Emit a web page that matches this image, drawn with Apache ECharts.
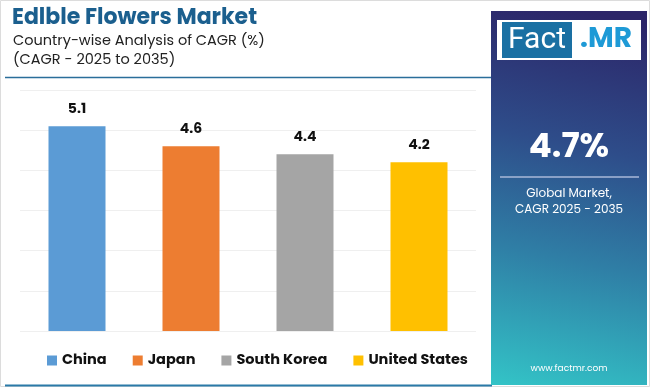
<!DOCTYPE html>
<html><head><meta charset="utf-8">
<script src="https://cdn.jsdelivr.net/npm/echarts@6/dist/echarts.min.js"></script>
<style>html,body{margin:0;padding:0;background:#fff}#c{width:650px;height:387px}</style>
</head><body><div id="c"></div>
<script>
var categories = ['China', 'Japan', 'South Korea', 'United States'];
var values = [5.1, 4.6, 4.4, 4.2];
var colors = ['#5b9bd5', '#ed7d31', '#a5a5a5', '#ffc000'];
var yTicks = [0, 1, 2, 3, 4, 5, 6];

var chart = echarts.init(document.getElementById('c'));
var F = 'Poppins, Inter, "Open Sans", sans-serif';
var series = categories.map(function (name, i) {
  return {
    name: name, type: 'bar', stack: 'all', barWidth: 57,
    itemStyle: { color: colors[i] },
    label: { show: true, position: 'top', distance: 10, color: '#111', fontWeight: 'bold', fontSize: 14, fontFamily: F },
    data: categories.map(function (c, j) { return j === i ? values[i] : '-'; })
  };
});
chart.setOption({
  animation: false,
  grid: { left: 20, right: 174, top: 90, bottom: 56 },
  xAxis: { type: 'category', data: categories, axisLine: { show: false }, axisTick: { show: false }, axisLabel: { show: false } },
  yAxis: { type: 'value', min: yTicks[0], max: yTicks[yTicks.length - 1], interval: 1,
    axisLabel: { show: false }, axisLine: { show: false }, axisTick: { show: false },
    splitLine: { lineStyle: { color: '#efefef', width: 1 } } },
  legend: { data: categories, left: 42, top: 348, icon: 'rect', itemWidth: 10, itemHeight: 10, itemGap: 26,
    textStyle: { fontFamily: F, fontWeight: 'bold', fontSize: 14.5, color: '#111' } },
  series: series,
  graphic: [
    { type: 'rect', shape: { x: 0.5, y: 0.5, width: 649, height: 386 }, style: { fill: 'none', stroke: '#dcdcdc', lineWidth: 1 }, z: -1 },
    { type: 'text', left: 12, top: 7, style: { text: 'Edlble Flowers Market', fontFamily: F, fontWeight: 'bold', fontSize: 22, fill: '#1b5f8e' } },
    { type: 'text', left: 13, top: 34, style: { text: 'Country-wise Analysis of CAGR (%)', fontFamily: F, fontSize: 14.5, fill: '#222' } },
    { type: 'text', left: 13, top: 53, style: { text: '(CAGR - 2025 to 2035)', fontFamily: F, fontSize: 14.5, fill: '#222' } },
    { type: 'line', shape: { x1: 5, y1: 77.5, x2: 492, y2: 77.5 }, style: { stroke: '#2a6e9a', lineWidth: 1.5 } },
    { type: 'line', shape: { x1: 5, y1: 385.5, x2: 492, y2: 385.5 }, style: { stroke: '#2a7aa8', lineWidth: 2 } },
    { type: 'rect', shape: { x: 491, y: 11, width: 156, height: 374 },
      style: { fill: new echarts.graphic.LinearGradient(0.1, 1, 0.6, 0, [
        { offset: 0, color: '#33c2c6' }, { offset: 0.35, color: '#2f7fa6' }, { offset: 0.65, color: '#2e4d8a' }, { offset: 1, color: '#2c2568' }]) } },
    { type: 'rect', shape: { x: 497, y: 20, width: 144, height: 40 }, style: { fill: '#fff' } },
    { type: 'rect', shape: { x: 502, y: 22, width: 70, height: 36 }, style: { fill: '#1a70a3' } },
    { type: 'text', x: 537, y: 40, style: { text: 'Fact', fontFamily: '"Liberation Sans Narrow", Roboto, sans-serif', fontSize: 30, fill: '#fff', align: 'center', verticalAlign: 'middle' } },
    { type: 'text', x: 606, y: 40, style: { text: '.MR', fontFamily: F, fontWeight: 'bold', fontSize: 28, fill: '#1e9ad6', align: 'center', verticalAlign: 'middle' } },
    { type: 'text', x: 569, y: 148, style: { text: '4.7%', fontFamily: F, fontWeight: 'bold', fontSize: 34, fill: '#fff', align: 'center', verticalAlign: 'middle' } },
    { type: 'line', shape: { x1: 500, y1: 177, x2: 639, y2: 177 }, style: { stroke: '#aab8d8', lineWidth: 1.5 } },
    { type: 'text', x: 569, y: 194, style: { text: 'Global Market,', fontFamily: F, fontSize: 12, fill: '#fff', align: 'center', verticalAlign: 'middle' } },
    { type: 'text', x: 569, y: 210, style: { text: 'CAGR 2025 - 2035', fontFamily: F, fontSize: 12, fill: '#fff', align: 'center', verticalAlign: 'middle' } },
    { type: 'text', x: 569, y: 369, style: { text: 'www.factmr.com', fontFamily: F, fontSize: 9, fill: '#fff', align: 'center', verticalAlign: 'middle' } }
  ]
});
</script></body></html>
